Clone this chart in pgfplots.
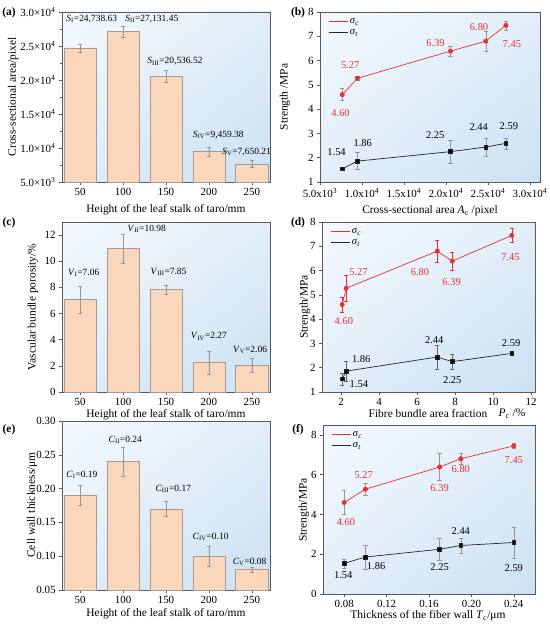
\documentclass[border=0pt]{standalone}
\usepackage{fontspec}
\setmainfont{Liberation Serif}
\usepackage{pgfplots}
\pgfplotsset{compat=1.18}
\usetikzlibrary{shadings}

\definecolor{bgA}{RGB}{244,249,254}
\definecolor{bgB}{RGB}{226,238,249}
\definecolor{bgC}{RGB}{203,225,243}
\definecolor{barfill}{RGB}{250,214,186}
\definecolor{baredge}{RGB}{165,155,148}
\definecolor{myred}{RGB}{232,48,48}
\definecolor{framec}{RGB}{90,90,90}
\definecolor{errc}{RGB}{150,150,150}

\newcommand\tkfont{\fontsize{11}{12}\selectfont}
\newcommand\tfont{\fontsize{11.5}{13}\selectfont}
\newcommand\lfont{\fontsize{10.5}{12}\selectfont}
\newcommand\bfnt{\fontsize{9.5}{10}\selectfont}

\pgfplotsset{
  base/.style={scale only axis, clip=false, scaled ticks=false,
    axis line style={framec, line width=0.6pt},
    every tick/.style={framec, line width=0.5pt},
    tick align=outside, tick pos=left,
    major tick length=3bp, minor tick length=1.8bp,
    ticklabel style={font=\tkfont, text=black},
    /pgf/number format/assume math mode=true,
    axis background/.style={shade, upper left=bgA, upper right=bgB, lower left=bgB, lower right=bgC},
  },
  bars/.style={base, ybar, bar width=0.75, xmin=-0.425, xmax=4.425,
    xtick={0,1,2,3,4}, xticklabels={50,100,150,200,250}},
  barplot/.style={fill=barfill, draw=baredge, line width=0.5pt,
    error bars/.cd, y dir=both, y explicit,
    error bar style={errc, line width=0.45pt},
    error mark options={rotate=90, errc, mark size=2.2bp, line width=0.45pt}},
  lines/.style={base,
    legend style={at={(rel axis cs:0,1)}, anchor=north west, xshift=7bp, yshift=-3bp,
      draw=none, fill=none, font=\lfont, row sep=0bp, inner sep=1bp},
    legend cell align=left,
    legend image code/.code={\draw[##1] (0bp,0bp) -- (19bp,0bp);}},
  redplot/.style={myred, line width=0.7pt, mark=*, mark size=2.1bp, mark options={fill=myred, solid},
    error bars/.cd, y dir=both, y explicit,
    error bar style={#1, line width=0.45pt},
    error mark options={rotate=90, #1, mark size=2.2bp, line width=0.45pt}},
  blkplot/.style={black!85, line width=0.7pt, mark=square*, mark size=1.9bp, mark options={fill=black, solid},
    error bars/.cd, y dir=both, y explicit,
    error bar style={#1, line width=0.45pt},
    error mark options={rotate=90, #1, mark size=2.2bp, line width=0.45pt}},
}

\begin{document}
\begin{tikzpicture}[x=1bp,y=1bp]
\useasboundingbox (0,0) rectangle (550,-629);

% ---------------- (a)
\begin{axis}[bars, at={(62bp,-12bp)}, anchor=north west, width=208bp, height=170bp,
  ymin=5000, ymax=30000, ytick={5000,10000,15000,20000,25000,30000},
  yticklabels={5.0×10\textsuperscript{3},1.0×10\textsuperscript{4},1.5×10\textsuperscript{4},2.0×10\textsuperscript{4},2.5×10\textsuperscript{4},3.0×10\textsuperscript{4}},
  minor y tick num=1]
\addplot[barplot] table[x=x,y=y,y error=e]{
x y e
0 24738.63 590
1 27131.45 790
2 20536.52 850
3 9459.38 640
4 7650.21 480
};
\node[font=\bfnt] at (axis cs:0.27,29016) {\textit{S}\textsubscript{I}=24,738.63};
\node[font=\bfnt] at (axis cs:1.67,29016) {\textit{S}\textsubscript{II}=27,131.45};
\node[font=\bfnt] at (axis cs:2.21,22717) {\textit{S}\textsubscript{III}=20,536.52};
\node[font=\bfnt] at (axis cs:3.22,11890) {\textit{S}\textsubscript{IV}=9,459.38};
\node[font=\bfnt] at (axis cs:3.88,9429) {\textit{S}\textsubscript{V}=7,650.21};
\end{axis}

% ---------------- (b)
\begin{axis}[lines, at={(320bp,-12bp)}, anchor=north west, width=220bp, height=170bp,
  xmin=5000, xmax=31200, ymin=1, ymax=8, ytick={1,2,...,8},
  xtick={5000,10000,15000,20000,25000,30000},
  xticklabels={5.0x10\textsuperscript{3},1.0x10\textsuperscript{4},1.5x10\textsuperscript{4},2.0x10\textsuperscript{4},2.5x10\textsuperscript{4},3.0x10\textsuperscript{4}}]
\addlegendimage{myred, line width=0.7pt}
\addlegendentry{\textit{σ}\textsubscript{\textit{c}}}
\addlegendimage{black!85, line width=0.7pt}
\addlegendentry{\textit{σ}\textsubscript{\textit{t}}}
\addplot[forget plot, redplot=errc] table[x=x,y=y,y error=e]{
x y e
7650.21 4.60 0.25
9459.38 5.27 0.08
20536.52 6.39 0.20
24738.63 6.80 0.40
27131.45 7.45 0.18
};
\addplot[forget plot, blkplot=errc] table[x=x,y=y,y error=e]{
x y e
7650.21 1.54 0.05
9459.38 1.86 0.35
20536.52 2.25 0.48
24738.63 2.44 0.37
27131.45 2.59 0.22
};
\begin{scope}[every node/.style={font=\lfont, text=myred}]
\node[xshift=-1.7bp,yshift=-18.7bp] at (axis cs:7650.21,4.60) {4.60};
\node[xshift=-7.3bp,yshift=13.3bp] at (axis cs:9459.38,5.27) {5.27};
\node[xshift=-15bp,yshift=8bp] at (axis cs:20536.52,6.39) {6.39};
\node[xshift=-6.7bp,yshift=13.7bp] at (axis cs:24738.63,6.80) {6.80};
\node[xshift=6bp,yshift=-19bp] at (axis cs:27131.45,7.45) {7.45};
\end{scope}
\begin{scope}[every node/.style={font=\lfont, text=black}]
\node[xshift=-5.7bp,yshift=16.3bp] at (axis cs:7650.21,1.54) {1.54};
\node[xshift=5.3bp,yshift=18bp] at (axis cs:9459.38,1.86) {1.86};
\node[xshift=-15.3bp,yshift=16.7bp] at (axis cs:20536.52,2.25) {2.25};
\node[xshift=-7bp,yshift=19.7bp] at (axis cs:24738.63,2.44) {2.44};
\node[xshift=3bp,yshift=17bp] at (axis cs:27131.45,2.59) {2.59};
\end{scope}
\end{axis}

% ---------------- (c)
\begin{axis}[bars, at={(62bp,-222bp)}, anchor=north west, width=208bp, height=170bp,
  ymin=0, ymax=13, ytick={0,2,4,6,8,10,12}]
\addplot[barplot] table[x=x,y=y,y error=e]{
x y e
0 7.06 1.00
1 10.98 1.12
2 7.85 0.35
3 2.27 0.88
4 2.06 0.55
};
\node[font=\bfnt] at (axis cs:0.08,9.11) {\textit{V}\textsubscript{I}=7.06};
\node[font=\bfnt] at (axis cs:1.55,12.46) {\textit{V}\textsubscript{II}=10.98};
\node[font=\bfnt] at (axis cs:2.06,9.19) {\textit{V}\textsubscript{III}=7.85};
\node[font=\bfnt] at (axis cs:3.0,4.26) {\textit{V}\textsubscript{IV}=2.27};
\node[font=\bfnt] at (axis cs:3.96,3.24) {\textit{V}\textsubscript{V}=2.06};
\end{axis}

% ---------------- (d)
\begin{axis}[lines, at={(322bp,-222bp)}, anchor=north west, width=213bp, height=170bp,
  xmin=1, xmax=12.2, ymin=1, ymax=8, ytick={1,2,...,8}, xtick={2,4,6,8,10,12}]
\addlegendimage{myred, line width=0.7pt}
\addlegendentry{\textit{σ}\textsubscript{\textit{c}}}
\addlegendimage{black!85, line width=0.7pt}
\addlegendentry{\textit{σ}\textsubscript{\textit{t}}}
\addplot[forget plot, redplot=myred] table[x=x,y=y,y error=e]{
x y e
2.06 4.60 0.30
2.27 5.27 0.53
7.06 6.80 0.47
7.85 6.39 0.37
10.98 7.45 0.28
};
\addplot[forget plot, blkplot=black!60] table[x=x,y=y,y error=e]{
x y e
2.06 1.54 0.25
2.27 1.86 0.40
7.06 2.44 0.50
7.85 2.25 0.32
10.98 2.59 0.08
};
\begin{scope}[every node/.style={font=\lfont, text=myred}]
\node[xshift=1.7bp,yshift=-16.7bp] at (axis cs:2.06,4.60) {4.60};
\node[xshift=12.3bp,yshift=16.3bp] at (axis cs:2.27,5.27) {5.27};
\node[xshift=-17.3bp,yshift=-21bp] at (axis cs:7.06,6.80) {6.80};
\node[xshift=-0.7bp,yshift=-21bp] at (axis cs:7.85,6.39) {6.39};
\node[xshift=-1.3bp,yshift=-21.3bp] at (axis cs:10.98,7.45) {7.45};
\end{scope}
\begin{scope}[every node/.style={font=\lfont, text=black}]
\node[xshift=16.7bp,yshift=-5.7bp] at (axis cs:2.06,1.54) {1.54};
\node[xshift=15bp,yshift=11.7bp] at (axis cs:2.27,1.86) {1.86};
\node[xshift=-3bp,yshift=16.7bp] at (axis cs:7.06,2.44) {2.44};
\node[xshift=0bp,yshift=-18bp] at (axis cs:7.85,2.25) {2.25};
\node[xshift=-0.7bp,yshift=10.3bp] at (axis cs:10.98,2.59) {2.59};
\end{scope}
\end{axis}

% ---------------- (e)
\begin{axis}[bars, at={(62bp,-421bp)}, anchor=north west, width=208bp, height=169bp,
  ymin=0.05, ymax=0.30, ytick={0.05,0.10,0.15,0.20,0.25,0.30},
  yticklabel style={/pgf/number format/.cd, fixed, fixed zerofill, precision=2}]
\addplot[barplot] table[x=x,y=y,y error=e]{
x y e
0 0.19 0.015
1 0.24 0.021
2 0.17 0.011
3 0.10 0.015
4 0.08 0.003
};
\node[font=\bfnt] at (axis cs:0.04,0.2198) {\textit{C}\textsubscript{I}=0.19};
\node[font=\bfnt] at (axis cs:1.05,0.2724) {\textit{C}\textsubscript{II}=0.24};
\node[font=\bfnt] at (axis cs:2.17,0.2001) {\textit{C}\textsubscript{III}=0.17};
\node[font=\bfnt] at (axis cs:3.04,0.1287) {\textit{C}\textsubscript{IV}=0.10};
\node[font=\bfnt] at (axis cs:3.95,0.0918) {\textit{C}\textsubscript{V}=0.08};
\end{axis}

% ---------------- (f)
\begin{axis}[lines, at={(323bp,-425bp)}, anchor=north west, width=212bp, height=169bp,
  xmin=0.06, xmax=0.26, ymin=0, ymax=8.5, ytick={0,2,4,6,8},
  xtick={0.08,0.12,0.16,0.20,0.24},
  xticklabel style={/pgf/number format/.cd, fixed, fixed zerofill, precision=2}]
\addlegendimage{myred, line width=0.7pt}
\addlegendentry{\textit{σ}\textsubscript{\textit{c}}}
\addlegendimage{black!85, line width=0.7pt}
\addlegendentry{\textit{σ}\textsubscript{\textit{t}}}
\addplot[forget plot, redplot=errc] table[x=x,y=y,y error=e]{
x y e
0.08 4.60 0.60
0.10 5.27 0.30
0.17 6.39 0.67
0.19 6.80 0.26
0.24 7.45 0.14
};
\addplot[forget plot, blkplot=errc] table[x=x,y=y,y error=e]{
x y e
0.08 1.54 0.23
0.10 1.86 0.60
0.17 2.25 0.55
0.19 2.44 0.37
0.24 2.59 0.78
};
\begin{scope}[every node/.style={font=\lfont, text=myred}]
\node[xshift=1.7bp,yshift=-20bp] at (axis cs:0.08,4.60) {4.60};
\node[xshift=-1.7bp,yshift=14.3bp] at (axis cs:0.10,5.27) {5.27};
\node[xshift=0bp,yshift=-20.7bp] at (axis cs:0.17,6.39) {6.39};
\node[xshift=0bp,yshift=-10.3bp] at (axis cs:0.19,6.80) {6.80};
\node[xshift=0bp,yshift=-14bp] at (axis cs:0.24,7.45) {7.45};
\end{scope}
\begin{scope}[every node/.style={font=\lfont, text=black}]
\node[xshift=-1bp,yshift=-12bp] at (axis cs:0.08,1.54) {1.54};
\node[xshift=10.7bp,yshift=-8.7bp] at (axis cs:0.10,1.86) {1.86};
\node[xshift=0bp,yshift=-18.3bp] at (axis cs:0.17,2.25) {2.25};
\node[xshift=0bp,yshift=14.3bp] at (axis cs:0.19,2.44) {2.44};
\node[xshift=0bp,yshift=-25.3bp] at (axis cs:0.24,2.59) {2.59};
\end{scope}
\end{axis}

% ---------------- axis labels and panel letters
\begin{scope}[every node/.style={font=\tfont}]
\node at (166,-210) {Height of the leaf stalk of taro/mm};
\node at (166,-415) {Height of the leaf stalk of taro/mm};
\node at (166,-614) {Height of the leaf stalk of taro/mm};
\node at (430,-211) {Cross-sectional area \textit{A}\textsubscript{c} /pixel};
\node at (428,-414) {Fibre bundle area fraction};
\node at (512,-414) {\textit{P}\textsubscript{c} /\%};
\node at (428,-616) {Thickness of the fiber wall \textit{T}\textsubscript{c}/μm};
\node[rotate=90] at (13,-97) {Cross-sectional area/pixel};
\node[rotate=90] at (33,-307) {Vascular bundle porosity/\%};
\node[rotate=90] at (32,-505) {Cell wall thickness/μm};
\node[rotate=90] at (285,-97) {Strength /MPa};
\node[rotate=90] at (305,-307) {Strength/MPa};
\node[rotate=90] at (304,-510) {Strength/MPa};
\end{scope}
\begin{scope}[every node/.style={font=\tfont\bfseries}]
\node at (9,-13) {(a)};
\node at (298,-13) {(b)};
\node at (9,-223) {(c)};
\node at (298,-223) {(d)};
\node at (9,-430) {(e)};
\node at (298,-430) {(f)};
\end{scope}
\end{tikzpicture}
\end{document}
